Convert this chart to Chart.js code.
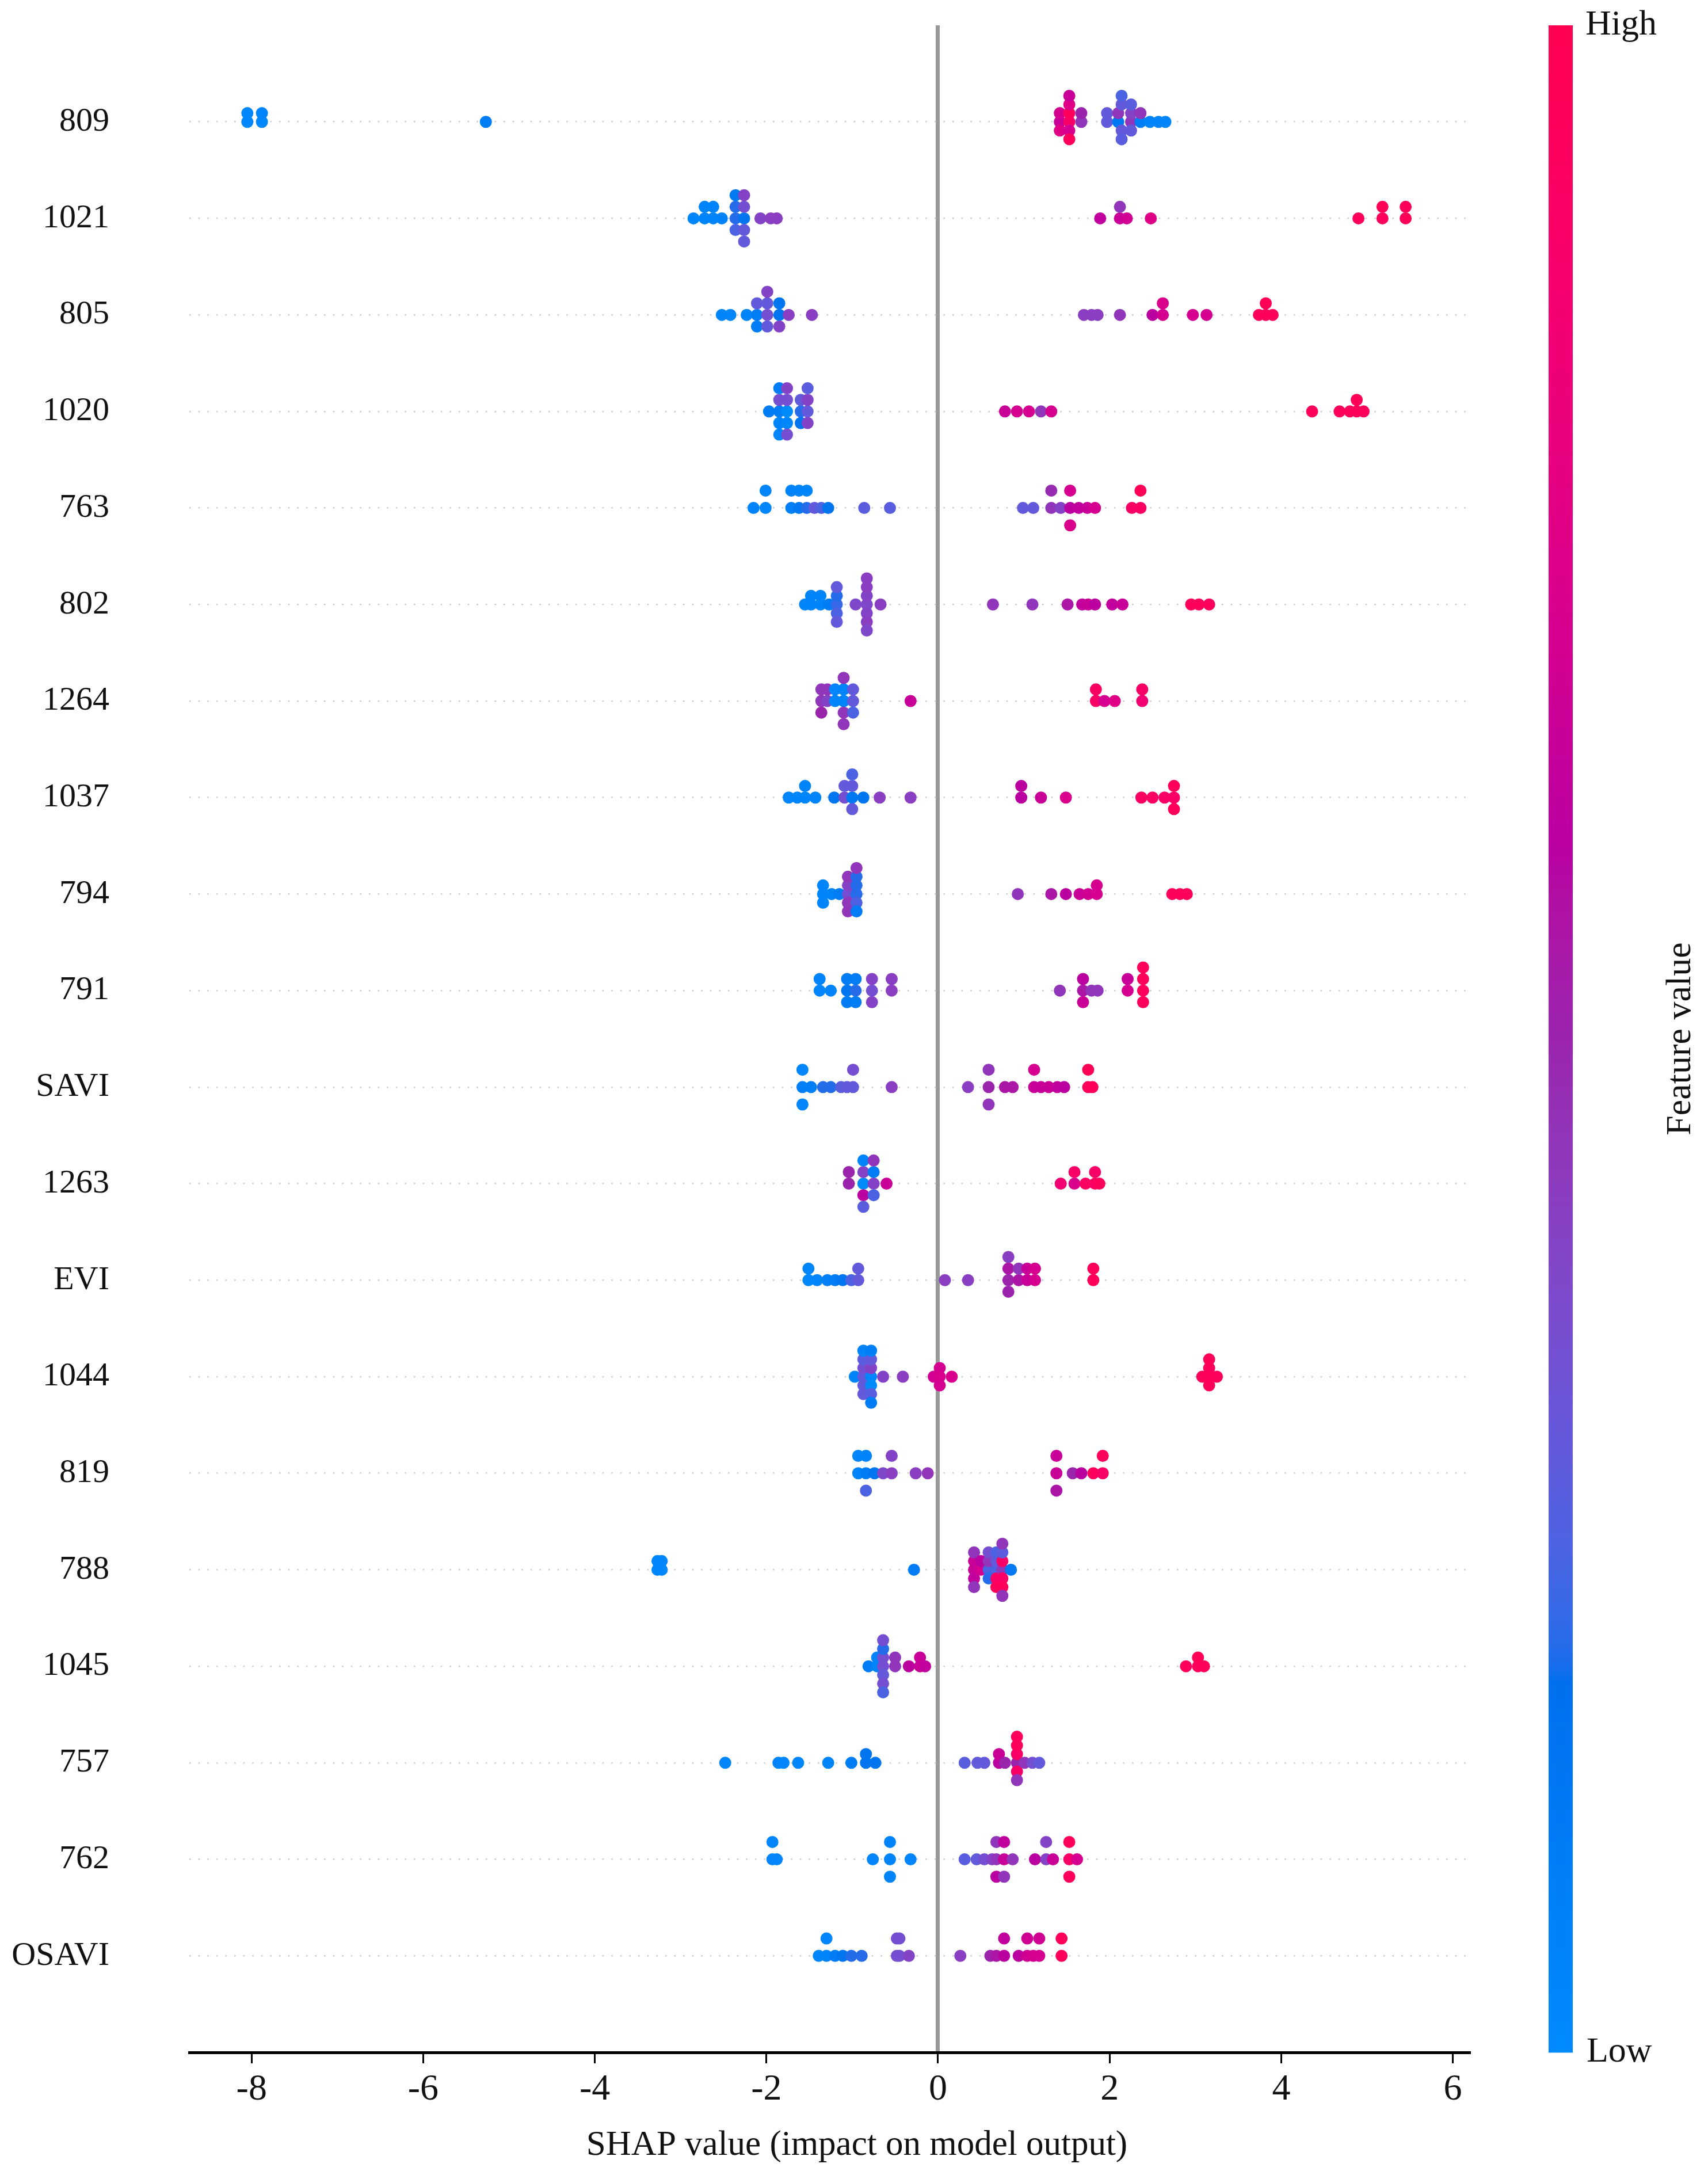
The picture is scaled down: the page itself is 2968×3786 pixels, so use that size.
<!DOCTYPE html>
<html>
<head>
<meta charset="utf-8">
<script src="https://cdn.jsdelivr.net/npm/chart.js@4.4.1/dist/chart.umd.min.js"></script>
<style>
  html, body { margin: 0; padding: 0; background: #fff; }
  #wrap { width: 2968px; height: 3786px; position: relative; }
</style>
</head>
<body>
<div id="wrap"><canvas id="shap-chart"></canvas></div>
<script>
// features, top to bottom
const features = ['809', '1021', '805', '1020', '763', '802', '1264', '1037', '794', '791',
  'SAVI', '1263', 'EVI', '1044', '819', '788', '1045', '757', '762', 'OSAVI'];

const xTicks = [-8, -6, -4, -2, 0, 2, 4, 6];

// SHAP value of every sample, one list per feature (same order as features)
const shapValues = [
  [-8.05, -8.05, -7.88, -7.88, -5.27, 1.42, 1.42, 1.42, 1.53, 1.53, 1.53, 1.53, 1.53, 1.53, 1.67, 1.67, 1.97, 1.97, 2.10, 2.10, 2.14, 2.14, 2.14, 2.14, 2.25, 2.25, 2.25, 2.25, 2.36, 2.36, 2.47, 2.57, 2.65],
  [-2.85, -2.72, -2.72, -2.62, -2.62, -2.52, -2.36, -2.36, -2.36, -2.36, -2.26, -2.26, -2.26, -2.26, -2.26, -2.07, -1.95, -1.88, 1.89, 2.12, 2.12, 2.20, 2.48, 4.90, 5.18, 5.18, 5.45, 5.45],
  [-2.52, -2.42, -2.23, -2.11, -2.11, -2.11, -1.99, -1.99, -1.99, -1.99, -1.85, -1.85, -1.85, -1.74, -1.47, 1.70, 1.79, 1.86, 2.12, 2.50, 2.62, 2.62, 2.97, 3.13, 3.74, 3.82, 3.82, 3.90],
  [-1.97, -1.85, -1.85, -1.85, -1.85, -1.85, -1.76, -1.76, -1.76, -1.76, -1.76, -1.60, -1.60, -1.60, -1.52, -1.52, -1.52, -1.52, 0.78, 0.92, 1.06, 1.20, 1.32, 4.36, 4.68, 4.80, 4.88, 4.88, 4.96],
  [-2.15, -2.01, -2.01, -1.71, -1.71, -1.62, -1.62, -1.53, -1.53, -1.44, -1.36, -1.28, -0.86, -0.56, 0.99, 1.11, 1.32, 1.32, 1.43, 1.54, 1.54, 1.54, 1.64, 1.74, 1.83, 2.26, 2.36, 2.36],
  [-1.55, -1.48, -1.48, -1.37, -1.37, -1.27, -1.18, -1.18, -1.18, -1.18, -1.18, -0.96, -0.83, -0.83, -0.83, -0.83, -0.83, -0.83, -0.83, -0.67, 0.64, 1.10, 1.51, 1.68, 1.75, 1.83, 2.03, 2.15, 2.95, 3.04, 3.16],
  [-1.36, -1.36, -1.36, -1.29, -1.29, -1.20, -1.20, -1.10, -1.10, -1.10, -1.10, -1.10, -0.99, -0.99, -0.99, -0.32, 1.84, 1.84, 1.94, 2.06, 2.38, 2.38],
  [-1.74, -1.64, -1.55, -1.55, -1.43, -1.21, -1.09, -1.09, -1.00, -1.00, -1.00, -1.00, -0.87, -0.68, -0.32, 0.97, 0.97, 1.20, 1.49, 2.37, 2.50, 2.64, 2.75, 2.75, 2.75],
  [-1.34, -1.34, -1.34, -1.24, -1.15, -1.05, -1.05, -1.05, -1.05, -1.05, -0.95, -0.95, -0.95, -0.95, -0.95, -0.95, 0.93, 1.32, 1.49, 1.65, 1.75, 1.85, 1.85, 2.73, 2.82, 2.90],
  [-1.38, -1.38, -1.25, -1.06, -1.06, -1.06, -0.96, -0.96, -0.96, -0.77, -0.77, -0.77, -0.54, -0.54, 1.42, 1.69, 1.69, 1.69, 1.79, 1.86, 2.21, 2.21, 2.39, 2.39, 2.39, 2.39],
  [-1.58, -1.58, -1.58, -1.48, -1.34, -1.25, -1.13, -1.06, -0.99, -0.99, -0.54, 0.35, 0.59, 0.59, 0.59, 0.78, 0.87, 1.12, 1.12, 1.20, 1.29, 1.39, 1.47, 1.75, 1.75, 1.80],
  [-1.04, -1.04, -0.87, -0.87, -0.87, -0.87, -0.87, -0.75, -0.75, -0.75, -0.75, -0.60, 1.43, 1.59, 1.59, 1.72, 1.83, 1.83, 1.88],
  [-1.51, -1.51, -1.41, -1.29, -1.20, -1.11, -1.01, -0.93, -0.93, 0.08, 0.35, 0.82, 0.82, 0.82, 0.82, 0.94, 0.94, 1.04, 1.04, 1.13, 1.13, 1.81, 1.81],
  [-0.97, -0.87, -0.87, -0.87, -0.87, -0.87, -0.87, -0.78, -0.78, -0.78, -0.78, -0.78, -0.78, -0.78, -0.64, -0.41, -0.05, 0.02, 0.02, 0.02, 0.16, 3.08, 3.16, 3.16, 3.16, 3.16, 3.25],
  [-0.93, -0.93, -0.84, -0.84, -0.84, -0.74, -0.64, -0.54, -0.54, -0.26, -0.12, 1.38, 1.38, 1.38, 1.57, 1.67, 1.81, 1.92, 1.92],
  [-3.27, -3.27, -3.22, -3.22, -0.28, 0.42, 0.42, 0.42, 0.42, 0.42, 0.50, 0.50, 0.59, 0.59, 0.59, 0.59, 0.68, 0.68, 0.68, 0.68, 0.68, 0.75, 0.75, 0.75, 0.75, 0.75, 0.75, 0.75, 0.85],
  [-0.81, -0.71, -0.71, -0.64, -0.64, -0.64, -0.64, -0.64, -0.64, -0.64, -0.50, -0.50, -0.34, -0.21, -0.21, -0.15, 2.89, 3.03, 3.03, 3.10],
  [-2.48, -1.86, -1.80, -1.63, -1.28, -1.01, -0.84, -0.84, -0.73, 0.31, 0.46, 0.54, 0.71, 0.71, 0.78, 0.92, 0.92, 0.92, 0.92, 0.92, 0.92, 1.01, 1.10, 1.18],
  [-1.93, -1.93, -1.88, -0.76, -0.56, -0.56, -0.56, -0.32, 0.31, 0.45, 0.54, 0.63, 0.68, 0.68, 0.68, 0.77, 0.77, 0.77, 0.87, 1.13, 1.26, 1.26, 1.34, 1.53, 1.53, 1.53, 1.62],
  [-1.39, -1.30, -1.30, -1.20, -1.11, -1.01, -0.89, -0.48, -0.48, -0.45, -0.45, -0.34, 0.26, 0.61, 0.68, 0.77, 0.77, 0.94, 1.04, 1.04, 1.11, 1.18, 1.18, 1.44, 1.44]
];

// normalised feature value of the same samples (0 = low, 1 = high)
const featureValues = [
  [0.02, 0.02, 0.02, 0.03, 0.10, 0.65, 0.70, 0.75, 0.90, 0.95, 0.70, 0.75, 0.95, 0.65, 0.45, 0.50, 0.30, 0.30, 0.12, 0.45, 0.30, 0.30, 0.28, 0.25, 0.45, 0.40, 0.30, 0.28, 0.10, 0.45, 0.05, 0.05, 0.03],
  [0.03, 0.05, 0.05, 0.05, 0.05, 0.06, 0.20, 0.20, 0.25, 0.12, 0.15, 0.35, 0.30, 0.40, 0.30, 0.40, 0.42, 0.42, 0.62, 0.65, 0.45, 0.68, 0.75, 0.95, 0.95, 0.97, 0.97, 0.95],
  [0.03, 0.03, 0.05, 0.10, 0.30, 0.10, 0.35, 0.30, 0.30, 0.40, 0.15, 0.15, 0.40, 0.42, 0.42, 0.42, 0.42, 0.42, 0.45, 0.60, 0.70, 0.72, 0.70, 0.70, 0.95, 0.95, 0.97, 0.95],
  [0.10, 0.10, 0.35, 0.05, 0.10, 0.03, 0.00, 0.35, 0.02, 0.40, 0.35, 0.20, 0.30, 0.15, 0.30, 0.40, 0.40, 0.28, 0.65, 0.70, 0.70, 0.45, 0.70, 0.95, 0.95, 0.95, 0.95, 0.97, 0.95],
  [0.05, 0.03, 0.03, 0.08, 0.05, 0.12, 0.05, 0.20, 0.03, 0.30, 0.25, 0.15, 0.28, 0.28, 0.30, 0.30, 0.45, 0.48, 0.40, 0.60, 0.70, 0.72, 0.62, 0.65, 0.70, 0.90, 0.92, 0.97],
  [0.03, 0.03, 0.05, 0.05, 0.05, 0.10, 0.22, 0.20, 0.25, 0.30, 0.30, 0.38, 0.38, 0.40, 0.40, 0.42, 0.42, 0.42, 0.38, 0.42, 0.45, 0.45, 0.55, 0.62, 0.65, 0.60, 0.62, 0.65, 0.95, 0.95, 0.95],
  [0.45, 0.45, 0.50, 0.40, 0.45, 0.05, 0.03, 0.05, 0.05, 0.45, 0.45, 0.45, 0.30, 0.30, 0.25, 0.65, 0.90, 0.92, 0.70, 0.75, 0.85, 0.90],
  [0.03, 0.03, 0.03, 0.05, 0.05, 0.15, 0.35, 0.30, 0.12, 0.30, 0.30, 0.25, 0.15, 0.42, 0.42, 0.60, 0.60, 0.65, 0.72, 0.92, 0.92, 0.90, 0.90, 0.95, 0.95],
  [0.03, 0.05, 0.05, 0.05, 0.10, 0.35, 0.40, 0.45, 0.45, 0.45, 0.20, 0.20, 0.25, 0.20, 0.10, 0.45, 0.45, 0.55, 0.60, 0.65, 0.68, 0.70, 0.70, 0.95, 0.95, 0.95],
  [0.03, 0.05, 0.05, 0.15, 0.10, 0.10, 0.20, 0.10, 0.10, 0.35, 0.40, 0.40, 0.42, 0.42, 0.45, 0.55, 0.60, 0.65, 0.45, 0.45, 0.70, 0.65, 0.95, 0.95, 0.95, 0.95],
  [0.08, 0.03, 0.03, 0.08, 0.20, 0.20, 0.28, 0.30, 0.30, 0.35, 0.42, 0.42, 0.50, 0.45, 0.45, 0.55, 0.55, 0.65, 0.70, 0.65, 0.65, 0.62, 0.60, 0.95, 0.97, 0.95],
  [0.50, 0.50, 0.00, 0.40, 0.60, 0.05, 0.28, 0.40, 0.10, 0.25, 0.45, 0.65, 0.85, 0.72, 0.90, 0.92, 0.92, 0.90, 0.95],
  [0.02, 0.03, 0.03, 0.08, 0.10, 0.15, 0.25, 0.30, 0.30, 0.42, 0.42, 0.50, 0.55, 0.50, 0.42, 0.55, 0.45, 0.65, 0.65, 0.70, 0.70, 0.95, 0.95],
  [0.05, 0.30, 0.35, 0.30, 0.28, 0.30, 0.05, 0.03, 0.40, 0.00, 0.30, 0.28, 0.08, 0.10, 0.40, 0.42, 0.68, 0.72, 0.70, 0.70, 0.72, 0.95, 0.95, 0.95, 0.95, 0.97, 0.95],
  [0.05, 0.03, 0.10, 0.05, 0.25, 0.15, 0.38, 0.42, 0.40, 0.42, 0.45, 0.65, 0.65, 0.55, 0.50, 0.60, 0.95, 0.90, 0.95],
  [0.02, 0.03, 0.02, 0.02, 0.10, 0.65, 0.65, 0.62, 0.45, 0.45, 0.70, 0.60, 0.25, 0.45, 0.20, 0.35, 0.25, 0.30, 0.90, 0.25, 0.95, 0.45, 0.90, 0.90, 0.28, 0.95, 0.45, 0.45, 0.12],
  [0.10, 0.05, 0.05, 0.35, 0.35, 0.30, 0.20, 0.35, 0.35, 0.25, 0.45, 0.45, 0.60, 0.65, 0.65, 0.62, 0.95, 0.95, 0.97, 0.95],
  [0.03, 0.03, 0.03, 0.03, 0.05, 0.10, 0.15, 0.15, 0.15, 0.28, 0.30, 0.30, 0.60, 0.65, 0.50, 0.50, 0.90, 0.90, 0.95, 0.45, 0.95, 0.45, 0.35, 0.30],
  [0.03, 0.03, 0.03, 0.03, 0.05, 0.05, 0.05, 0.03, 0.28, 0.30, 0.35, 0.40, 0.45, 0.45, 0.60, 0.65, 0.62, 0.45, 0.45, 0.60, 0.40, 0.40, 0.65, 0.90, 0.95, 0.95, 0.70],
  [0.03, 0.05, 0.03, 0.10, 0.15, 0.20, 0.20, 0.35, 0.35, 0.35, 0.35, 0.40, 0.42, 0.50, 0.55, 0.60, 0.62, 0.60, 0.68, 0.68, 0.70, 0.70, 0.68, 0.95, 0.95]
];

const ROW_HEIGHT = 0.4;

// shap's red_blue colormap (interpolated in LCh space)
function shapColor(t) {
  t = Math.min(1, Math.max(0, t));
  const L = t < 0.5 ? 54 - 28 * t : 40 + 28 * (t - 0.5);
  const C = 70 + 20 * t;
  const h = 4.6588 + t * (0.35470565 + 2 * Math.PI - 4.6588);
  const a = C * Math.cos(h), b = C * Math.sin(h);
  const fy = (L + 16) / 116, fx = a / 500 + fy, fz = fy - b / 200;
  const f = v => (v ** 3 > 0.008856 ? v ** 3 : (v - 16 / 116) / 7.787);
  const X = f(fx) * 0.95047, Y = f(fy), Z = f(fz) * 1.08883;
  const lin = [
    3.2406 * X - 1.5372 * Y - 0.4986 * Z,
    -0.9689 * X + 1.8758 * Y + 0.0415 * Z,
    0.0557 * X - 0.2040 * Y + 1.0570 * Z
  ];
  const rgb = lin.map(v => {
    v = v > 0.0031308 ? 1.055 * Math.pow(v, 1 / 2.4) - 0.055 : 12.92 * v;
    return Math.round(255 * Math.min(1, Math.max(0, v)));
  });
  return `rgb(${rgb.join(',')})`;
}

// same binning/stacking as shap's beeswarm
function beeswarm(shaps) {
  const nbins = 100;
  const mn = Math.min(...shaps), mx = Math.max(...shaps);
  const quant = shaps.map(v => Math.round(nbins * (v - mn) / (mx - mn + 1e-8)));
  const order = shaps.map((_, i) => i).sort((p, q) => quant[p] - quant[q] || p - q);
  const ys = new Array(shaps.length).fill(0);
  let layer = 0, lastBin = -1;
  for (const i of order) {
    if (quant[i] !== lastBin) layer = 0;
    ys[i] = Math.ceil(layer / 2) * ((layer % 2) * 2 - 1);
    layer++;
    lastBin = quant[i];
  }
  const top = Math.max(...ys.map(y => y + 1));
  return ys.map(y => y * 0.9 * (ROW_HEIGHT / top));
}

const points = [];
const colors = [];
features.forEach((name, row) => {
  const offs = beeswarm(shapValues[row]);
  shapValues[row].forEach((v, j) => {
    points.push({ x: v, y: row - offs[j] });
    colors.push(shapColor(featureValues[row][j]));
  });
});

const decorations = {
  id: 'decorations',
  afterDraw(chart) {
    const { ctx } = chart;
    const { top, bottom, right } = chart.chartArea;
    const barX = right + 139, barW = 42;
    for (let y = top; y < bottom; y++) {
      ctx.fillStyle = shapColor((bottom - y) / (bottom - top));
      ctx.fillRect(barX, y, barW, 1.5);
    }
    ctx.save();
    ctx.fillStyle = '#111';
    ctx.font = "62px 'Liberation Serif'";
    ctx.textAlign = 'left';
    ctx.textBaseline = 'middle';
    ctx.fillText('High', barX + barW + 22, top);
    ctx.fillText('Low', barX + barW + 24, bottom);

    ctx.translate(2921, 1805);
    ctx.rotate(-Math.PI / 2);
    ctx.textAlign = 'center';
    ctx.fillText('Feature value', 0, 0);
    ctx.restore();

    ctx.save();
    ctx.fillStyle = '#111';
    ctx.font = "61px 'Liberation Serif'";
    ctx.textAlign = 'center';
    ctx.textBaseline = 'alphabetic';
    ctx.fillText('SHAP value (impact on model output)', 1489, 3744);
    ctx.restore();
  }
};

Chart.defaults.font.family = "'Liberation Serif', serif";

new Chart(document.getElementById('shap-chart'), {
  type: 'scatter',
  data: {
    datasets: [{
      data: points,
      pointBackgroundColor: colors,
      pointRadius: 10.5,
      pointBorderWidth: 0,
      pointHoverRadius: 10.5
    }]
  },
  options: {
    responsive: true,
    maintainAspectRatio: false,
    devicePixelRatio: 1,
    animation: false,
    events: [],
    layout: { padding: { top: 44, right: 416, bottom: 0, left: 0 } },
    plugins: {
      legend: { display: false },
      tooltip: { enabled: false }
    },
    scales: {
      x: {
        type: 'linear',
        min: -8.726,
        max: 6.184,
        afterBuildTicks: s => { s.ticks = xTicks.map(v => ({ value: v })); },
        afterFit: s => { s.height = 220; s.paddingLeft = 0; s.paddingRight = 0; },
        ticks: {
          font: { size: 64 },
          color: '#111',
          padding: 8,
          autoSkip: false,
          maxRotation: 0,
          callback: v => String(v)
        },
        grid: {
          drawOnChartArea: true,
          drawTicks: true,
          tickLength: 19,
          tickWidth: 3,
          tickColor: '#000',
          lineWidth: 7,
          color: ctx => (ctx.tick && ctx.tick.value === 0 ? '#999999' : 'rgba(0,0,0,0)')
        },
        border: { display: true, color: '#000', width: 5 }
      },
      y: {
        type: 'linear',
        min: -1,
        max: features.length,
        reverse: true,
        afterBuildTicks: s => { s.ticks = features.map((_, i) => ({ value: i })); },
        afterFit: s => { s.width = 329; s.paddingTop = 0; s.paddingBottom = 0; },
        ticks: {
          font: { size: 58 },
          color: '#111',
          padding: 139,
          autoSkip: false,
          callback: v => features[v]
        },
        grid: { color: '#cccccc', lineWidth: 2.6, drawTicks: false },
        border: { display: false, dash: [2.6, 13] }
      }
    }
  },
  plugins: [decorations]
});
</script>
</body>
</html>
